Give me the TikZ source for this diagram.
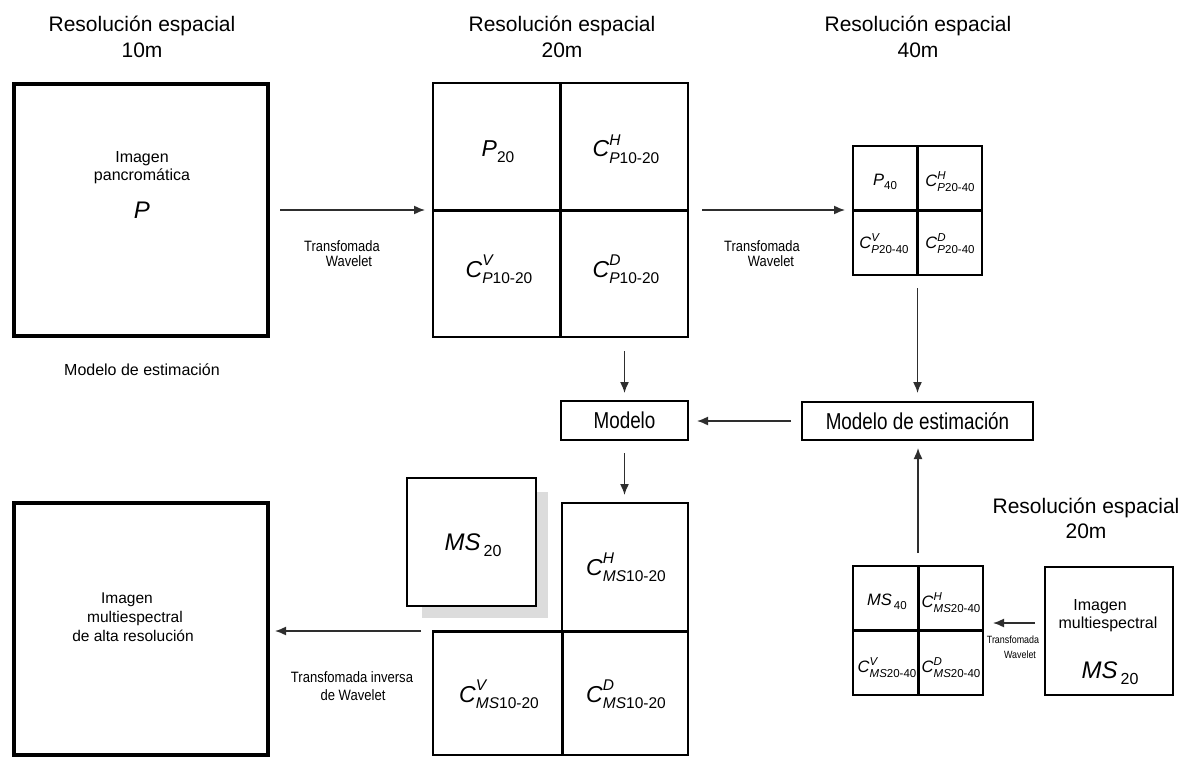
\documentclass[tikz,border=0pt]{standalone}
\usepackage{fontspec}
\setmainfont{Liberation Sans}
\usepackage{graphicx}
\usetikzlibrary{arrows.meta}

\definecolor{shadowgray}{HTML}{DCDCDC}
\definecolor{arrowgray}{HTML}{2E2E2E}

% font size in pt
\newcommand{\fs}[1]{\fontsize{#1}{#1}\selectfont}
% wavelet coefficient: #1 size, #2 script size, #3 raise (em), #4 drop (em), #5 band, #6 index
\newcommand{\coef}[6]{{\fs{#1}\textit{C}\rlap{\raisebox{#3em}{\fs{#2}\textit{#5}}}\raisebox{-#4em}{\fs{#2}#6}}}
\newcommand{\cbig}[2]{\coef{23}{15.5}{0.48}{0.27}{#1}{#2}}
\newcommand{\csmall}[2]{\coef{16.5}{11.5}{0.42}{0.34}{#1}{#2}}
% symbol with subscript: #1 size, #2 script size, #3 symbol, #4 index, #5 gap
\newcommand{\symsub}[5]{{\fs{#1}\textit{#3}\hspace{#5}\raisebox{-0.28em}{\fs{#2}#4}}}
% condensed label
\newcommand{\narrow}[2]{\scalebox{#1}[1]{#2}}

\begin{document}
\begin{tikzpicture}[x=1pt,y=-1pt,
  every node/.style={outer sep=0pt},
  heavyframe/.style={draw, line width=4pt, inner sep=0pt, minimum width=254pt, minimum height=#1},
  gridframe/.style={draw, line width=1.8pt, inner sep=0pt},
  plainbox/.style={draw, line width=1.8pt, inner sep=0pt},
  divider/.style={line width=3pt},
  txt/.style={inner sep=0pt, anchor=base},
  arr/.style={draw=arrowgray, line width=1.5pt, -{Latex[length=11pt,width=9pt]}},
]
\useasboundingbox (0,0) rectangle (1193,757);

% ---------- titles ----------
\node[txt,font=\fs{21}] (t10a) at (142,32) {Resolución espacial};
\node[txt,font=\fs{21}] (t10b) at (142,58) {10m};
\node[txt,font=\fs{21}] (t20a) at (562,32) {Resolución espacial};
\node[txt,font=\fs{21}] (t20b) at (562,58) {20m};
\node[txt,font=\fs{21}] (t40a) at (918,32) {Resolución espacial};
\node[txt,font=\fs{21}] (t40b) at (918,58) {40m};
\node[txt,font=\fs{21}] (tmsa) at (1086,513) {Resolución espacial};
\node[txt,font=\fs{21}] (tmsb) at (1086,538) {20m};

% ---------- panchromatic image ----------
\node[heavyframe=252pt] (pbox) at (141,210) {};
\node[txt,font=\fs{16}] (pimg1) at (142,162) {Imagen};
\node[txt,font=\fs{16}] (pimg2) at (142,180) {pancromática};
\node[txt,font=\fs{24}\itshape] (psym) at (142,218) {P};
\node[txt,font=\fs{16}] (pmod) at (142,375) {Modelo de estimación};

% ---------- 20 m decomposition ----------
\node[gridframe, minimum width=255pt, minimum height=254pt] (g20) at (560.5,210) {};
\draw[divider] (g20.north) -- (g20.south);
\draw[divider] (g20.west) -- (g20.east);
\node[txt] (p20) at (498,156) {\symsub{23}{15.5}{P}{20}{0pt}};
\node[txt] (ch20) at (626,157) {\cbig{H}{\textit{P}10-20}};
\node[txt] (cv20) at (499,277) {\cbig{V}{\textit{P}10-20}};
\node[txt] (cd20) at (626,277) {\cbig{D}{\textit{P}10-20}};

\draw[arr, shorten <=12pt, shorten >=8pt] (pbox.east) -- (pbox.east -| g20.west);
\node[txt,font=\fs{15}] (w1a) at (342,251) {\narrow{0.86}{Transfomada}};
\node[txt,font=\fs{15}] (w1b) at (349,266) {\narrow{0.86}{Wavelet}};

% ---------- 40 m decomposition ----------
\node[gridframe, minimum width=129pt, minimum height=129pt] (g40) at (917.5,210.5) {};
\draw[divider] (g40.north) -- (g40.south);
\draw[divider] (g40.west) -- (g40.east);
\node[txt] (p40) at (885,185) {\symsub{16.5}{11.5}{P}{40}{0pt}};
\node[txt] (ch40) at (950,186) {\csmall{H}{\textit{P}20-40}};
\node[txt] (cv40) at (884,248) {\csmall{V}{\textit{P}20-40}};
\node[txt] (cd40) at (950,248) {\csmall{D}{\textit{P}20-40}};

\draw[arr, shorten <=14pt, shorten >=8pt] (g20.east) -- (g20.east -| g40.west);
\node[txt,font=\fs{15}] (w2a) at (762,251) {\narrow{0.86}{Transfomada}};
\node[txt,font=\fs{15}] (w2b) at (771,266) {\narrow{0.86}{Wavelet}};

% ---------- models ----------
\node[plainbox, minimum width=231pt, minimum height=38pt, font=\fs{23}] (estim) at (917.5,421) {\narrow{0.82}{Modelo de estimación}};
\node[plainbox, minimum width=127pt, minimum height=39pt, font=\fs{23}] (modelo) at (624.5,420.5) {\narrow{0.82}{Modelo}};

\draw[arr, shorten <=13pt, shorten >=9pt] (g40.south) -- (g40.south |- estim.north);
\draw[arr, shorten <=14pt, shorten >=8pt] (modelo.north |- g20.south) -- (modelo.north);
\draw[arr, shorten <=11pt, shorten >=9pt] (estim.west) -- (estim.west -| modelo.east);

% ---------- multispectral 20 m image with shadow ----------
\node[fill=shadowgray, inner sep=0pt, minimum width=126pt, minimum height=126pt] (ms20sh) at (485,555) {};
\node[plainbox, fill=white, minimum width=129pt, minimum height=128pt] (ms20box) at (471.5,542) {};
\node[txt] (ms20) at (473,550) {\symsub{24}{16}{MS}{20}{3pt}};

% ---------- synthesised coefficients ----------
\node[gridframe, minimum width=126pt, minimum height=128pt] (cH) at (625,567) {};
\node[gridframe, minimum width=129pt, minimum height=124pt] (cV) at (497.5,693) {};
\node[gridframe, minimum width=126pt, minimum height=124pt] (cD) at (625,693) {};
\draw[divider] (cV.north west) -- (cD.north east);
\draw[divider] (cD.north west) -- (cD.south west);
\node[txt] (chms) at (626,575) {\cbig{H}{\textit{MS}10-20}};
\node[txt] (cvms) at (499,702) {\cbig{V}{\textit{MS}10-20}};
\node[txt] (cdms) at (626,702) {\cbig{D}{\textit{MS}10-20}};

\draw[arr, shorten <=13pt, shorten >=8pt] (modelo.south) -- (modelo.south |- cH.north);

% ---------- high resolution multispectral output ----------
\node[heavyframe=252pt] (bbox) at (141,629) {};
\node[txt,font=\fs{15.5}] (bimg1) at (127,603) {Imagen};
\node[txt,font=\fs{15.5}] (bimg2) at (135,622) {multiespectral};
\node[txt,font=\fs{15.5}] (bimg3) at (133,641) {de alta resolución};

\draw[arr, shorten <=12pt, shorten >=7pt] (cV.north west) -- (cV.north west -| bbox.east);
\node[txt,font=\fs{15}] (w3a) at (352,682) {\narrow{0.87}{Transfomada inversa}};
\node[txt,font=\fs{15}] (w3b) at (353,700) {\narrow{0.87}{de Wavelet}};

% ---------- multispectral 40 m decomposition ----------
\node[gridframe, minimum width=130pt, minimum height=129pt] (gms) at (918,630.5) {};
\draw[divider] (gms.north) -- (gms.south);
\draw[divider] (gms.west) -- (gms.east);
\node[txt] (ms40) at (887,605) {\symsub{16.5}{11.5}{MS}{40}{2pt}};
\node[txt] (chm40) at (951,607) {\csmall{H}{\textit{MS}20-40}};
\node[txt] (cvm40) at (887,672) {\csmall{V}{\textit{MS}20-40}};
\node[txt] (cdm40) at (951,672) {\csmall{D}{\textit{MS}20-40}};

\node[plainbox, minimum width=128pt, minimum height=128pt] (msbox) at (1109,631) {};
\node[txt,font=\fs{16}] (mimg1) at (1100,610) {Imagen};
\node[txt,font=\fs{16}] (mimg2) at (1108,628) {multiespectral};
\node[txt] (msin) at (1110,678) {\symsub{24}{16}{MS}{20}{3pt}};

\draw[arr, shorten <=13pt, shorten >=8pt] (gms.north) -- (gms.north |- estim.south);
\draw[arr, shorten <=10pt, shorten >=10pt] ([yshift=8pt]msbox.west) -- ([yshift=8pt]msbox.west -| gms.east);
\node[txt,font=\fs{10.5}] (w4a) at (1013,643) {\narrow{0.85}{Transfomada}};
\node[txt,font=\fs{10.5}] (w4b) at (1020,658) {\narrow{0.85}{Wavelet}};

\end{tikzpicture}
\end{document}
